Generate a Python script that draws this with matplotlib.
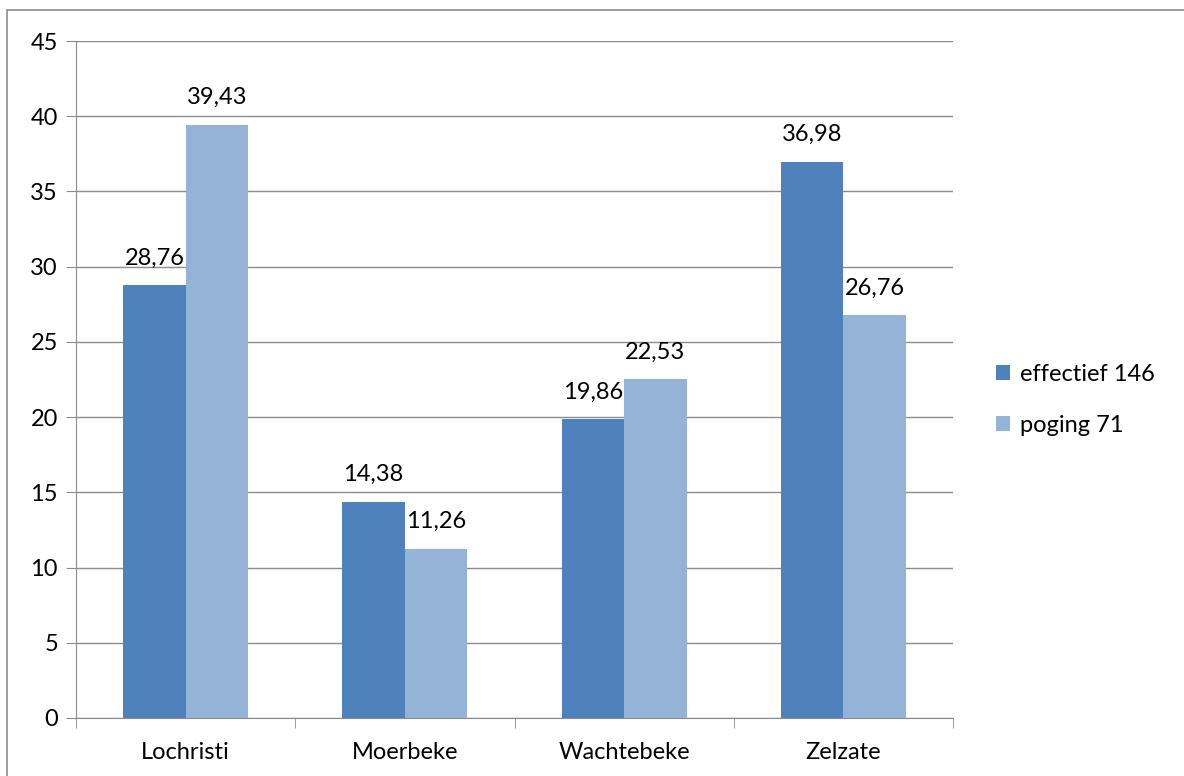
import matplotlib.pyplot as plt
import matplotlib.patches as patches
import numpy as np

plt.rcParams['font.family'] = ['Lato', 'DejaVu Sans']

gemeenten = ['Lochristi', 'Moerbeke', 'Wachtebeke', 'Zelzate']
effectief = [28.76, 14.38, 19.86, 36.98]
poging = [39.43, 11.26, 22.53, 26.76]
reeksen = ['effectief 146', 'poging 71']
y_ticks = [0, 5, 10, 15, 20, 25, 30, 35, 40, 45]

donker = '#4F81BD'
licht = '#95B3D7'
grijs = '#8C8C8C'
fs = 17

fig = plt.figure(figsize=(11.84, 7.76), dpi=100)
# buitenrand van de grafiek
fig.patches.append(patches.Rectangle((7 / 1184, -0.01), 1.0, 1 - 10 / 776 + 0.01,
                                     transform=fig.transFigure, fill=False,
                                     edgecolor=grijs, lw=1.2))

ax = fig.add_axes([76 / 1184, 58 / 776, (953 - 76) / 1184, (718 - 41) / 776])

x = np.arange(len(gemeenten))
w = 0.285
b1 = ax.bar(x - w / 2, effectief, w, color=donker, label=reeksen[0], zorder=3)
b2 = ax.bar(x + w / 2, poging, w, color=licht, label=reeksen[1], zorder=3)

for bars, vals in [(b1, effectief), (b2, poging)]:
    for r, v in zip(bars, vals):
        ax.text(r.get_x() + r.get_width() / 2, v + 1.1, f'{v:.2f}'.replace('.', ','),
                ha='center', va='bottom', fontsize=fs, color='black')

ax.set_xlim(-0.5, len(gemeenten) - 0.5)
ax.set_ylim(0, 45)
ax.set_yticks(y_ticks)
ax.set_yticklabels([str(t) for t in y_ticks], fontsize=fs)
ax.yaxis.grid(True, color=grijs, lw=1, zorder=0)
ax.tick_params(axis='y', length=7, color=grijs, pad=6, labelcolor='black')

ax.set_xticks(x)
ax.set_xticklabels(gemeenten, fontsize=fs)
ax.tick_params(axis='x', length=0, pad=17, labelcolor='black')
ax.set_xticks(np.arange(-0.5, len(gemeenten)), minor=True)
ax.tick_params(axis='x', which='minor', length=7, color=grijs)

for s in ['top', 'right']:
    ax.spines[s].set_visible(False)
for s in ['left', 'bottom']:
    ax.spines[s].set_color(grijs)

ax.legend(loc='center left', bbox_to_anchor=(1.025, 0.47), frameon=False,
          fontsize=fs, handlelength=0.6, handleheight=0.6, handletextpad=0.4,
          labelspacing=1.25)

fig.savefig('out.png', dpi=100)
